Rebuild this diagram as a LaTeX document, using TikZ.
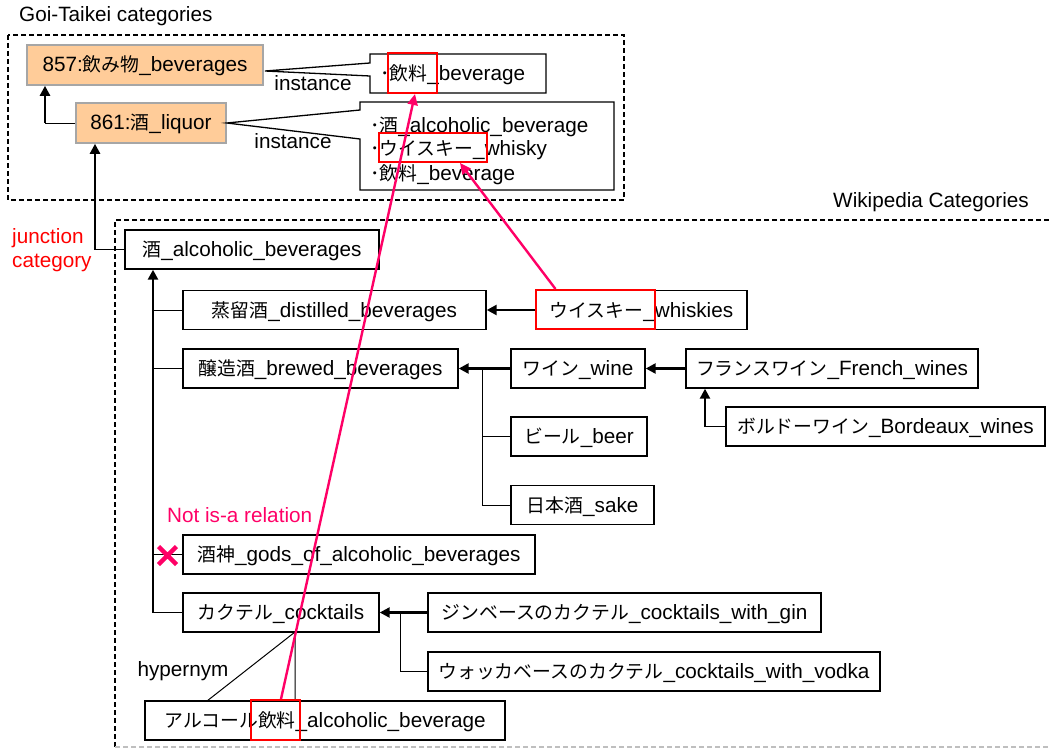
\documentclass[tikz,border=0pt]{standalone}
\usepackage{fontspec}
\setmainfont{Liberation Sans}
\newfontfamily\jpfont{Noto Sans CJK JP}[Scale=0.91]
\newcommand\J[1]{{\jpfont #1}}
\usetikzlibrary{arrows.meta}
\definecolor{peach}{HTML}{FFCC99}
\definecolor{hotpink}{HTML}{FF0066}

\begin{document}
\begin{tikzpicture}[x=1pt, y=-1pt,
  font=\fontsize{20.7}{24}\selectfont,
  every node/.style={inner sep=0pt},
  cat/.style={draw=black, line width=1.4pt, fill=white, minimum height=39pt,
              text height=14pt, text depth=0pt},
  gt/.style={draw=gray!70, line width=1.6pt, fill=peach, minimum height=40pt,
             text height=14pt, text depth=0pt},
  callout/.style={draw=black, line width=1.3pt, fill=white},
  branch/.style={line width=0.9pt},
  isa/.style={line width=2.4pt, -{Triangle[length=10pt,width=10pt]}},
  hl/.style={draw=red, line width=2pt},
  link/.style={draw=hotpink, line width=2.4pt, -{Triangle[length=11pt,width=10pt]}},
  frame/.style={dash pattern=on 5pt off 3pt, line width=1.8pt}
]
\useasboundingbox (0,0) rectangle (1049,749);

% ---------- Goi-Taikei frame ----------
\draw[frame] (8,35) rectangle (624,200);
\node[anchor=west] (gtitle) at (19,16) {Goi-Taikei categories};

\node[gt, minimum width=236pt] (b857) at (145,65) {857:\J{飲み物}\_beverages};
\node[gt, minimum width=150pt] (b861) at (151,123) {861:\J{酒}\_liquor};

\coordinate (c1) at (45,123);
\draw[branch] (b861.west) -- (c1);
\draw[isa] (c1) -- (c1 |- b857.south);

% instance callouts
\coordinate (tip1) at (265,71);
\draw[callout] (370,54) -- (546,54) -- (546,93) -- (370,93) -- (370,76)
               -- (tip1) -- (370,63) -- cycle;
\node[anchor=base west] (inst1) at (380,81) {\J{･飲料}\_beverage};
\node (lab1) at (313,83) {instance};

\draw[callout] (360,102) -- (614,102) -- (614,190) -- (360,190) -- (360,139)
               -- (b861.east) -- (360,110) -- cycle;
\node[anchor=base west] (inst2a) at (370,132) {\J{･酒}\_alcoholic\_beverage};
\node[anchor=base west] (inst2b) at (370,156) {\J{･ウイスキー}\_whisky};
\node[anchor=base west] (inst2c) at (370,180) {\J{･飲料}\_beverage};
\node (lab2) at (293,141) {instance};

% ---------- Wikipedia frame ----------
\draw[frame] (1049,220) -- (115,220) -- (115,747);
\draw[frame, draw=gray!50] (115,747) -- (1049,747);
\node[anchor=east] (wtitle) at (1029,202) {Wikipedia Categories};

\node[anchor=west, align=left, text=red] (junc) at (12,250) {junction\\category};

\node[cat, minimum width=254pt] (alc)    at (252,249.5) {\J{酒}\_alcoholic\_beverages};
\node[cat, minimum width=303pt] (dist)   at (334.5,310) {\J{蒸留酒}\_distilled\_beverages};
\node[cat, minimum width=211pt] (whisk)  at (641.5,310) {\J{ウイスキー}\_whiskies};
\node[cat, minimum width=275pt] (brew)   at (320.5,368.5) {\J{醸造酒}\_brewed\_beverages};
\node[cat, minimum width=134pt] (wine)   at (578,368.5) {\J{ワイン}\_wine};
\node[cat, minimum width=136pt] (beer)   at (579,436.5) {\J{ビール}\_beer};
\node[cat, minimum width=143pt] (sake)   at (582.5,505) {\J{日本酒}\_sake};
\node[cat, minimum width=292pt] (french) at (832,368.5) {\J{フランスワイン}\_French\_wines};
\node[cat, minimum width=319pt] (bord)   at (885.5,426.5) {\J{ボルドーワイン}\_Bordeaux\_wines};
\node[cat, minimum width=352pt] (gods)   at (359,554.5) {\J{酒神}\_gods\_of\_alcoholic\_beverages};
\node[cat, minimum width=196pt] (cock)   at (281,612.5) {\J{カクテル}\_cocktails};
\node[cat, minimum width=393pt] (gin)    at (624.5,612.5) {\J{ジンベースのカクテル}\_cocktails\_with\_gin};
\node[cat, minimum width=452pt] (vodka)  at (654,671.5) {\J{ウォッカベースのカクテル}\_cocktails\_with\_vodka};
\node[cat, minimum width=360pt] (alcbev) at (325,720.5) {\J{アルコール飲料}\_alcoholic\_beverage};

% junction: alcoholic beverages -> liquor
\coordinate (c2) at (95,249.5);
\draw[branch] (alc.west) -- (c2);
\draw[isa] (c2) -- (c2 |- b861.south);

% main trunk under alcoholic beverages
\coordinate (tr) at (153,612.5);
\draw[isa] (tr) -- (tr |- alc.south);
\draw[branch] (tr |- dist) -- (dist.west);
\draw[branch] (tr |- brew) -- (brew.west);
\draw[branch] (tr |- gods) -- (gods.west);
\draw[branch] (tr) -- (cock.west);

% distilled / brewed sub-trees
\draw[isa] (whisk.west) -- (dist.east);
\draw[isa] (wine.west) -- (brew.east);
\coordinate (c3) at (482,368.5);
\draw[branch] (c3) -- (c3 |- sake) -- (sake.west);
\draw[branch] (c3 |- beer) -- (beer.west);
\draw[isa] (french.west) -- (wine.east);
\coordinate (c4) at (705,426.5);
\draw[branch] (bord.west) -- (c4);
\draw[isa] (c4) -- (c4 |- french.south);

% cocktails sub-tree
\draw[isa] (gin.west) -- (cock.east);
\coordinate (c5) at (400,612.5);
\draw[branch] (c5) -- (c5 |- vodka) -- (vodka.west);

% hypernym callout
\coordinate (tip2) at (295,632);
\draw[line width=1pt] (207,701) -- (tip2) -- (295,701);
\node (hyp) at (183,671) {hypernym};

% not an is-a relation
\node[anchor=west, text=hotpink] (notisa) at (167,515) {Not is-a relation};
\coordinate (xm) at (167.5,555.5);
\draw[hotpink, line width=4.5pt] ([shift={(-9,-9)}]xm) -- ([shift={(9,9)}]xm)
                                 ([shift={(-9,9)}]xm) -- ([shift={(9,-9)}]xm);

% highlighted shared words
\node[hl, minimum width=49pt, minimum height=40pt]  (hl1) at (412.5,73) {};
\node[hl, minimum width=108pt, minimum height=29pt] (hl2) at (433,147.5) {};
\node[hl, minimum width=119pt, minimum height=39pt] (hlw) at (595.5,309.5) {};
\node[hl, minimum width=49pt, minimum height=40pt]  (hl3) at (275.5,720) {};

\draw[link] ([xshift=5.5pt]hl3.north) -- ([xshift=2.5pt]hl1.south);
\draw[link] ([xshift=-40pt]hlw.north) -- ([xshift=27pt]hl2.south);
\end{tikzpicture}
\end{document}
